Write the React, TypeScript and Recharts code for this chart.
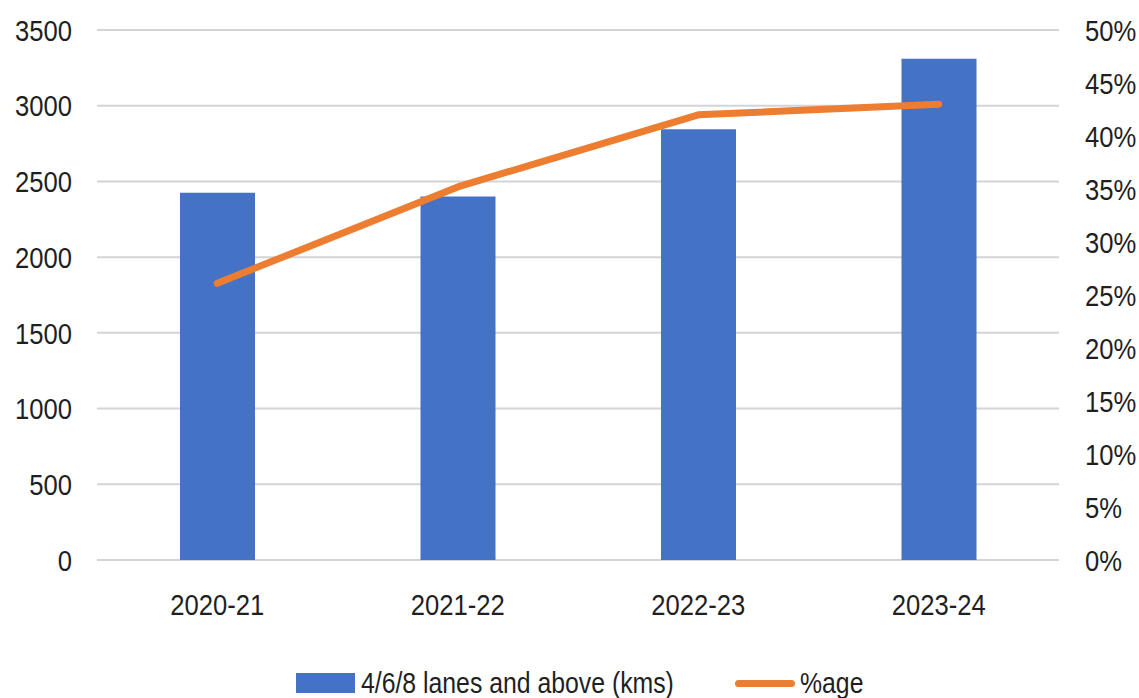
import { ComposedChart, Bar, Line, XAxis, YAxis, CartesianGrid, Legend } from 'recharts';

const years = ['2020-21', '2021-22', '2022-23', '2023-24'];
const laneKms = [2425, 2400, 2845, 3310];
const shareOfTotal = [0.261, 0.352, 0.42, 0.43];

const kmTicks = [0, 500, 1000, 1500, 2000, 2500, 3000, 3500];
const pctTicks = [0, 0.05, 0.1, 0.15, 0.2, 0.25, 0.3, 0.35, 0.4, 0.45, 0.5];

const BLUE = '#4472c4';
const ORANGE = '#ed7d31';
const INK = '#1f1f1f';
const FONT = '"Liberation Sans", Arial, sans-serif';
// no narrow face installed, so squeeze the regular one horizontally
const SQUEEZE = 0.855;

const data = years.map((year, i) => ({ year, kms: laneKms[i], pct: shareOfTotal[i] }));

function NarrowTick({ x, y, payload, anchor, dy, format }: any) {
    const label = format ? format(payload.value) : payload.value;
    return (
        <g transform={`translate(${x},${y})`}>
            <text transform={`scale(${SQUEEZE},1)`} textAnchor={anchor} dy={dy} fill={INK} fontSize={30} fontFamily={FONT}>
                {label}
            </text>
        </g>
    );
}

const pct = (v: number) => `${Math.round(v * 100)}%`;

function NarrowText({ children, width }: { children: string; width: number }) {
    return (
        <span style={{ display: 'inline-block', width, whiteSpace: 'nowrap' }}>
            <span style={{ display: 'inline-block', transform: `scaleX(${SQUEEZE})`, transformOrigin: 'left center' }}>{children}</span>
        </span>
    );
}

function ChartLegend() {
    return (
        <div style={{ position: 'relative', height: 30, fontFamily: FONT, fontSize: 29, color: INK, lineHeight: '30px' }}>
            <span style={{ position: 'absolute', left: 296, top: 5, width: 59, height: 20, background: BLUE }} />
            <span style={{ position: 'absolute', left: 361, top: 0 }}>
                <NarrowText width={320}>4/6/8 lanes and above (kms)</NarrowText>
            </span>
            <span style={{ position: 'absolute', left: 735, top: 12, width: 60, height: 7, borderRadius: 4, background: ORANGE }} />
            <span style={{ position: 'absolute', left: 800, top: 0 }}>
                <NarrowText width={70}>%age</NarrowText>
            </span>
        </div>
    );
}

export default function App() {
    return (
        <div style={{ position: 'absolute', left: 0, top: 0, background: '#fff' }}>
            <ComposedChart width={1139} height={698} data={data} margin={{ top: 30, right: 0, left: 0, bottom: 0 }}>
                <CartesianGrid yAxisId="left" vertical={false} stroke="#d4d4d4" strokeWidth={2} />
                <XAxis
                    dataKey="year"
                    axisLine={false}
                    tickLine={false}
                    tickSize={0}
                    tickMargin={34}
                    height={108}
                    tick={<NarrowTick anchor="middle" dy="0.71em" />}
                />
                <YAxis
                    yAxisId="left"
                    domain={[0, 3500]}
                    ticks={kmTicks}
                    axisLine={false}
                    tickLine={false}
                    tickSize={0}
                    tickMargin={25}
                    width={97}
                    tick={<NarrowTick anchor="end" dy="0.355em" />}
                />
                <YAxis
                    yAxisId="right"
                    orientation="right"
                    domain={[0, 0.5]}
                    ticks={pctTicks}
                    axisLine={false}
                    tickLine={false}
                    tickSize={0}
                    tickMargin={26}
                    width={80}
                    tick={<NarrowTick anchor="start" dy="0.355em" format={pct} />}
                />
                <Legend verticalAlign="bottom" content={<ChartLegend />} />
                <Bar yAxisId="left" dataKey="kms" name="4/6/8 lanes and above (kms)" fill={BLUE} barSize={75} isAnimationActive={false} />
                <Line
                    yAxisId="right"
                    dataKey="pct"
                    name="%age"
                    type="linear"
                    stroke={ORANGE}
                    strokeWidth={7}
                    strokeLinecap="round"
                    strokeLinejoin="round"
                    dot={false}
                    activeDot={false}
                    isAnimationActive={false}
                />
            </ComposedChart>
        </div>
    );
}
